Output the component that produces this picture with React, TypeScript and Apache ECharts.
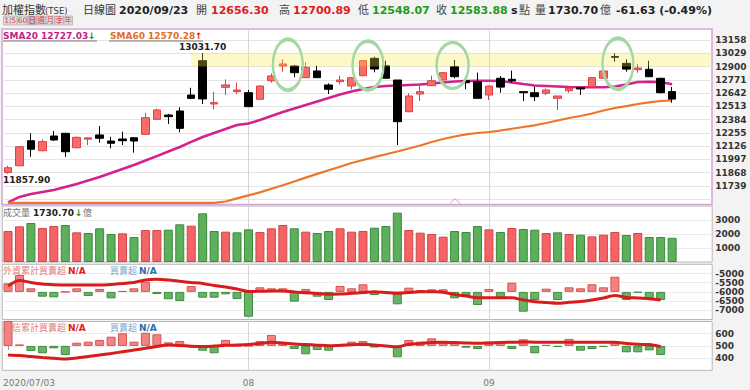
import React, { useEffect, useRef } from "react";
import * as echarts from "echarts";

const FONT = '"DejaVu Sans", "Noto Sans CJK TC", sans-serif';

// ---------------- data ----------------
const tradeDates = [
  "2020/07/03", "2020/07/06", "2020/07/07", "2020/07/08", "2020/07/09", "2020/07/10",
  "2020/07/13", "2020/07/14", "2020/07/15", "2020/07/16", "2020/07/17",
  "2020/07/20", "2020/07/21", "2020/07/22", "2020/07/23", "2020/07/24",
  "2020/07/27", "2020/07/28", "2020/07/29", "2020/07/30", "2020/07/31",
  "2020/08/03", "2020/08/04", "2020/08/05", "2020/08/06", "2020/08/07",
  "2020/08/10", "2020/08/11", "2020/08/12", "2020/08/13", "2020/08/14",
  "2020/08/17", "2020/08/18", "2020/08/19", "2020/08/20", "2020/08/21",
  "2020/08/24", "2020/08/25", "2020/08/26", "2020/08/27", "2020/08/28",
  "2020/08/31",
  "2020/09/01", "2020/09/02", "2020/09/03", "2020/09/04",
  "2020/09/07", "2020/09/08", "2020/09/09", "2020/09/10", "2020/09/11",
  "2020/09/14", "2020/09/15", "2020/09/16", "2020/09/17", "2020/09/18",
  "2020/09/21", "2020/09/22", "2020/09/23",
];
const futureDates = ["2020/09/24", "2020/09/25", "2020/09/28"];

const openPrices = [
  11870, 11936, 12179, 12082, 12225, 12251, 12111, 12194, 12235, 12176,
  12196, 12208, 12241, 12387, 12429, 12468, 12623, 12957, 12536, 12698,
  12656, 12646, 12582, 12762, 12905, 12905, 12792, 12857, 12721, 12753,
  12711, 12811, 12980, 12908, 12769, 12461, 12633, 12714, 12769, 12898,
  12762, 12753, 12623, 12786, 12776, 12656, 12646, 12640, 12591, 12665,
  12694, 12704, 12786, 12998, 12931, 12870, 12873, 12786, 12656.3,
];
const closePrices = [
  11917, 12121, 12096, 12170, 12186, 12072, 12212, 12207, 12203, 12154,
  12179, 12176, 12403, 12478, 12413, 12299, 12591, 12585, 12549, 12721,
  12672, 12510, 12711, 12808, 12925, 12840, 12893, 12792, 12679, 12769,
  12792, 12957, 12876, 12786, 12364, 12614, 12656, 12762, 12840, 12801,
  12743, 12591, 12710, 12700, 12760, 12646, 12607, 12672, 12614, 12688,
  12682, 12792, 12857, 12990, 12875, 12886, 12801, 12645.51, 12583.88,
];
const lowPrices = [
  11857.9, 11932, 12023, 12075, 12179, 12023, 12105, 12137, 12160, 12105,
  12137, 12063, 12238, 12383, 12342, 12261, 12582, 12536, 12484, 12623,
  12633, 12510, 12578, 12743, 12850, 12795, 12790, 12790, 12633, 12727,
  12679, 12805, 12844, 12786, 12137, 12455, 12565, 12710, 12765, 12786,
  12679, 12591, 12575, 12646, 12743, 12565, 12565, 12623, 12478, 12646,
  12623, 12700, 12783, 12947, 12850, 12840, 12801, 12640, 12548.07,
];
const highPrices = [
  11935, 12125, 12251, 12193, 12273, 12255, 12220, 12213, 12322, 12218,
  12267, 12212, 12451, 12490, 12439, 12504, 12694, 13031.7, 12655, 12776,
  12743, 12672, 12715, 12834, 12970, 12915, 12941, 12908, 12737, 12811,
  12795, 12960, 12996, 12957, 12769, 12640, 12737, 12811, 12845, 12964,
  12801, 12840, 12714, 12808, 12860, 12656, 12704, 12688, 12614, 12698,
  12694, 12795, 12860, 13029, 12970, 12925, 12957, 12790, 12700.89,
];
const sma20 = [
  11579, 11632, 11661, 11681, 11700, 11729, 11758, 11792, 11826, 11865,
  11904, 11943, 11987, 12030, 12074, 12118, 12167, 12215, 12254, 12293,
  12332, 12346, 12380, 12419, 12458, 12492, 12526, 12560, 12594, 12628,
  12657, 12682, 12701, 12711, 12716, 12721, 12725, 12735, 12745, 12755,
  12760, 12762, 12762, 12760, 12745, 12730, 12716, 12711, 12706, 12701,
  12698, 12698, 12698, 12706, 12725, 12750, 12753, 12750, 12727.03,
];
const sma60 = [
  11574, 11574, 11574, 11574, 11574, 11574, 11574, 11574, 11574, 11574,
  11574, 11574, 11574, 11574, 11574, 11574, 11574, 11574, 11574, 11588,
  11618, 11648, 11677, 11712, 11746, 11783, 11820, 11857, 11892, 11926,
  11962, 11992, 12019, 12048, 12074, 12103, 12133, 12167, 12196, 12220,
  12240, 12254, 12264, 12278, 12295, 12312, 12329, 12351, 12376, 12400,
  12419, 12444, 12473, 12497, 12516, 12536, 12552, 12565, 12570.28,
];
const volumes = [
  2214, 2548, 2786, 2429, 2571, 2643, 2119, 2071, 2405, 2000,
  2048, 1786, 2286, 2286, 2310, 2690, 2595, 3476, 2214, 2167,
  2119, 2333, 2143, 2405, 2643, 2405, 2167, 2071, 2214, 2405,
  2167, 2214, 2450, 2571, 3524, 2286, 2095, 2000, 1810, 2214,
  2143, 2571, 2333, 2143, 2429, 2357, 2310, 2071, 2119, 2000,
  1952, 1833, 1952, 2143, 1929, 2071, 1786, 1786, 1730.7,
];
const foreignDaily = [
  93, 184, 39, -52, -59, 0, 39, -45, 32, -70,
  10, 39, 111, -23, -80, -99, 64, -63, -63, -26,
  -77, -270, 50, 39, 39, -106, 32, -52, -88, 64,
  39, 83, -34, -10, -135, 46, 20, 28, 28, -70,
  -34, -142, 32, -70, 100, -215, -88, 35, -88, 50,
  39, 83, 50, 165, -88, -8, -70, -88, null,
];
const foreignCum = [
  -5679, -5380, -5489, -5571, -5609, -5625, -5625, -5625, -5625, -5598,
  -5544, -5489, -5353, -5315, -5353, -5424, -5489, -5544, -5652, -5734,
  -5842, -5978, -5967, -5951, -5951, -6005, -6043, -6087, -6130, -6114,
  -6076, -6033, -5989, -6033, -6076, -6033, -5989, -5995, -6022, -6141,
  -6223, -6315, -6315, -6315, -6321, -6440, -6533, -6576, -6620, -6565,
  -6522, -6440, -6332, -6196, -6304, -6332, -6370, -6440, null,
];
const trustDaily = [
  350, 18, -62, -91, -30, -111, 39, 52, 73, 113,
  155, 52, 162, 143, 44, 60, -18, -59, -91, 73,
  0, 0, 60, 134, 32, -38, -103, -50, -59, 0,
  52, 60, -20, -5, -140, 73, 52, 93, 44, 44,
  -22, -38, 52, 52, -38, 81, -91, 12, -12, 86,
  -59, -38, -12, 60, -79, -79, -55, -111, null,
];
const trustCum = [
  425, 421, 413, 405, 398, 393, 401, 413, 425, 438,
  452, 466, 480, 495, 507, 503, 497, 495, 499, 505,
  507, 511, 520, 530, 524, 516, 511, 506, 502, 505,
  509, 513, 507, 499, 493, 513, 520, 528, 530, 528,
  524, 521, 524, 528, 530, 532, 530, 530, 530, 530,
  530, 530, 530, 530, 520, 513, 511, 493, null,
];

// axis ranges / ticks
const PRICE_MIN = 11481;
const PRICE_MAX = 13287;
const PRICE_STEP = 129;
const PRICE_LABEL_LOW = 11739;
const PRICE_LABEL_HIGH = 13158;
const PANEL_VALUE_LOW = 11560;
const PANEL_VALUE_HIGH = 13262;
const VOL_MAX = 4000;
const VOL_STEP = 1000;
const FOREIGN_MIN = -7500;
const FOREIGN_MAX = -4500;
const FOREIGN_STEP = 500;
const TRUST_MIN = 300;
const TRUST_MAX = 700;
const TRUST_STEP = 100;
const DAILY_RANGE = 300;

// highlight band & circled candles
const bandStartIdx = 16;
const bandTop = 13035;
const bandBottom = 12900;
const highlightIdx = [24, 31, 39, 53];
const highlightVal = [12918, 12910, 12910, 12927];

const periodButtons = ["1", "5", "60", "日", "週", "月", "季", "年"];

// ---------------- styles ----------------
const RED_FILL = "#f76b6b";
const RED_EDGE = "#dc4040";
const GREEN_FILL = "#5cb05c";
const GREEN_EDGE = "#3c8a3c";
const RED_TXT = "#e01c1c";
const GREEN_TXT = "#1e9a1e";
const PANEL_BORDER = "#b8b8b8";
const GRID_LINE = "#e4e4e4";

function buildOption() {
  const n = tradeDates.length;
  const cats = tradeDates.concat(futureDates);
  const candles = tradeDates.map((_, i) => [openPrices[i], closePrices[i], lowPrices[i], highPrices[i]]);
  const isUp = (i: number) => (i === 0 ? closePrices[0] >= openPrices[0] : closePrices[i] >= closePrices[i - 1]);
  const monthStarts = tradeDates.filter((d, i) => i > 0 && d.slice(5, 7) !== tradeDates[i - 1].slice(5, 7));
  const labelIdx = new Set<number>([0, ...monthStarts.map((d) => tradeDates.indexOf(d))]);
  const showIdx = (i: number) => labelIdx.has(i);

  let hiIdx = 0;
  let loIdx = 0;
  highPrices.forEach((v, i) => { if (v > highPrices[hiIdx]) hiIdx = i; });
  lowPrices.forEach((v, i) => { if (v < lowPrices[loIdx]) loIdx = i; });

  const last = n - 1;
  const prevClose = closePrices[last - 1];
  const chg = closePrices[last] - prevClose;
  const pct = (chg / prevClose) * 100;
  const pc = (v: number) => (v >= prevClose ? RED_TXT : GREEN_TXT);
  const f2 = (v: number) => v.toFixed(2);
  const sign = (v: number) => (v > 0 ? "+" : "");

  const txt = (x: number, y: number, text: string, fill: string, size: number, weight = "normal") => ({
    type: "text", x, y, z: 1, silent: true,
    style: { text, fill, fontSize: size, fontWeight: weight, fontFamily: FONT, verticalAlign: "middle", align: "left" },
  });
  const uline = (x1: number, x2: number, y: number) => ({
    type: "line", z: 1, silent: true, shape: { x1, y1: y, x2, y2: y }, style: { stroke: "#777", lineWidth: 1 },
  });

  const hy = 10;
  const header = [
    txt(2, hy, "加權指數", "#333", 11),
    txt(45, hy + 0.5, "(TSE)", "#333", 8.5),
    txt(83, hy, "日線圖", "#333", 11),
    txt(119, hy, tradeDates[last], "#222", 11, "bold"),
    txt(196, hy, "開", "#444", 11),
    txt(211, hy, f2(openPrices[last]), pc(openPrices[last]), 11, "bold"),
    txt(279, hy, "高", "#444", 11),
    txt(293, hy, f2(highPrices[last]), pc(highPrices[last]), 11, "bold"),
    txt(358, hy, "低", "#444", 11),
    txt(372, hy, f2(lowPrices[last]), pc(lowPrices[last]), 11, "bold"),
    txt(436, hy, "收", "#444", 11),
    txt(450, hy, f2(closePrices[last]), pc(closePrices[last]), 11, "bold"),
    txt(511, hy, "s", "#222", 11, "bold"),
    txt(519, hy, "點", "#444", 11),
    txt(535, hy, "量", "#444", 11),
    txt(548, hy, f2(volumes[last]), "#222", 11, "bold"),
    txt(600, hy, "億", "#444", 11),
    txt(616, hy, `${sign(chg)}${f2(chg)} (${sign(pct)}${pct.toFixed(2)}%)`, "#222", 11, "bold"),
  ];

  const btnW = [6.5, 6.5, 10, 8.5, 8.5, 8.5, 8.5, 8.5];
  const buttons: any[] = [];
  let bx = 3.5;
  periodButtons.forEach((b, i) => {
    buttons.push({ type: "rect", z: 1, silent: true, shape: { x: bx, y: 16, width: btnW[i], height: 9 },
      style: { fill: b === "日" ? "#bcbcbc" : "#dedede", stroke: "#aaaaaa", lineWidth: 0.7 } });
    buttons.push({ type: "text", z: 1, silent: true, x: bx + btnW[i] / 2, y: 20.7,
      style: { text: b, fill: "#d83a3a", fontSize: 7.5, fontFamily: FONT, align: "center", verticalAlign: "middle" } });
    bx += btnW[i] + 0.5;
  });

  const arrow = (cur: number, prev: number) => (cur >= prev ? "↑" : "↓");
  const arrowColor = (cur: number, prev: number) => (cur >= prev ? RED_TXT : "#138a13");
  const s20 = sma20[last];
  const s60 = sma60[last];
  const legend = [
    txt(3, 35.7, `SMA20 ${f2(s20)}`, "#c41f86", 9, "bold"),
    txt(88, 35.7, arrow(s20, sma20[last - 1]), arrowColor(s20, sma20[last - 1]), 9, "bold"),
    uline(3, 97, 41),
    txt(110, 35.7, `SMA60 ${f2(s60)}`, "#e0702a", 9, "bold"),
    txt(195, 35.7, arrow(s60, sma60[last - 1]), arrowColor(s60, sma60[last - 1]), 9, "bold"),
    uline(109, 203, 41),
    txt(3, 212.7, "成交量", "#777", 9),
    txt(33, 212.7, f2(volumes[last]), "#222", 9, "bold"),
    txt(75, 212.7, arrow(volumes[last], volumes[last - 1]), arrowColor(volumes[last], volumes[last - 1]), 9, "bold"),
    txt(83, 212.7, "億", "#777", 9),
    txt(3, 271, "外資累計買賣超", "#e47a7a", 9),
    txt(68, 271, "N/A", "#dd2020", 9, "bold"),
    txt(110, 271, "買賣超", "#7ea8cf", 9),
    txt(139, 271, "N/A", "#2a6db0", 9, "bold"),
    txt(3, 328.3, "投信累計買賣超", "#e47a7a", 9),
    txt(68, 328.3, "N/A", "#dd2020", 9, "bold"),
    txt(110, 328.3, "買賣超", "#7ea8cf", 9),
    txt(139, 328.3, "N/A", "#2a6db0", 9, "bold"),
  ];

  const panelRect = {
    type: "rect", z: -1, silent: true,
    shape: { x: 2, y: 29, width: 710, height: 175.5 },
    style: { fill: "#ffffff", stroke: "#d6a6d6", lineWidth: 1.6 },
  };
  const cursorMark = {
    type: "polyline", z: 3, silent: true,
    shape: { points: [[450, 203.5], [455, 198.5], [460, 203.5]] },
    style: { stroke: "#c69ac6", fill: "none", lineWidth: 1 },
  };

  const gridL = 2.3;
  const gridW = 709.9;
  const grids = [
    { left: gridL, width: gridW, top: 26.73, height: 185.8, show: false },
    { left: gridL, width: gridW, top: 206, height: 56, show: true, backgroundColor: "#fff", borderColor: PANEL_BORDER, borderWidth: 1 },
    { left: gridL, width: gridW, top: 264.3, height: 55.2, show: true, backgroundColor: "#fff", borderColor: PANEL_BORDER, borderWidth: 1 },
    { left: gridL, width: gridW, top: 321.5, height: 48.8, show: true, backgroundColor: "#fff", borderColor: PANEL_BORDER, borderWidth: 1 },
  ].map((g) => ({ ...g, containLabel: false, outerBoundsMode: "none" }));

  const xBase = {
    type: "category", data: cats, boundaryGap: true,
    axisLine: { show: false }, axisTick: { show: false }, axisLabel: { show: false }, splitLine: { show: false },
  };
  const xAxis = [
    { ...xBase, gridIndex: 0 },
    { ...xBase, gridIndex: 1 },
    { ...xBase, gridIndex: 2 },
    {
      ...xBase, gridIndex: 3,
      axisTick: { show: true, alignWithLabel: true, interval: (i: number) => showIdx(i), length: 4, lineStyle: { color: "#999" } },
      axisLabel: {
        show: true, interval: (i: number) => showIdx(i), color: "#777", fontSize: 9, fontFamily: FONT, margin: 8,
        formatter: (v: string, i: number) => (i === 0 ? `{first|${v}}` : v.slice(5, 7)),
        rich: { first: { padding: [0, 0, 0, 42], color: "#777", fontSize: 9, fontFamily: FONT } },
      },
    },
  ];

  const plain = (v: number) => String(v);
  const yLabel = { color: "#333", fontWeight: "bold", fontSize: 9, fontFamily: FONT, margin: 3 };
  const ySplit = { show: true, showMinLine: false, showMaxLine: false, lineStyle: { color: GRID_LINE, width: 1 } };
  const yAxis = [
    {
      gridIndex: 0, type: "value", position: "right", min: PRICE_MIN, max: PRICE_MAX, interval: PRICE_STEP,
      axisLine: { show: false }, axisTick: { show: false },
      axisLabel: { ...yLabel, formatter: (v: number) => (v >= PRICE_LABEL_LOW && v <= PRICE_LABEL_HIGH ? String(v) : "") },
      splitLine: ySplit,
    },
    {
      gridIndex: 1, type: "value", position: "right", min: 0, max: VOL_MAX, interval: VOL_STEP,
      axisLine: { show: false }, axisTick: { show: false },
      axisLabel: { ...yLabel, showMinLabel: false, showMaxLabel: false, formatter: plain },
      splitLine: { ...ySplit, lineStyle: { color: "#ececec" } },
    },
    {
      gridIndex: 2, type: "value", position: "right", min: FOREIGN_MIN, max: FOREIGN_MAX, interval: FOREIGN_STEP,
      axisLine: { show: false }, axisTick: { show: false },
      axisLabel: { ...yLabel, showMinLabel: false, showMaxLabel: false, formatter: plain },
      splitLine: { ...ySplit, lineStyle: { color: "#ececec" } },
    },
    { gridIndex: 2, type: "value", show: false, min: -DAILY_RANGE, max: DAILY_RANGE, splitLine: { show: false } },
    {
      gridIndex: 3, type: "value", position: "right", min: TRUST_MIN, max: TRUST_MAX, interval: TRUST_STEP,
      axisLine: { show: false }, axisTick: { show: false },
      axisLabel: { ...yLabel, showMinLabel: false, showMaxLabel: false, formatter: plain },
      splitLine: { ...ySplit, lineStyle: { color: "#ececec" } },
    },
    { gridIndex: 3, type: "value", show: false, min: -DAILY_RANGE, max: DAILY_RANGE, splitLine: { show: false } },
  ];

  const vLineStyle = { color: "#d6d6d6", width: 1, type: "solid" };
  const monthLines = (withRange: boolean) => ({
    silent: true, symbol: ["none", "none"], z: 1, label: { show: false }, lineStyle: vLineStyle,
    emphasis: { disabled: true },
    data: withRange
      ? monthStarts.map((d) => [{ xAxis: d, yAxis: PANEL_VALUE_LOW }, { xAxis: d, yAxis: PANEL_VALUE_HIGH }])
      : monthStarts.map((d) => ({ xAxis: d })),
  });

  const dailyBars = (arr: (number | null)[]) =>
    arr.map((v) => (v == null ? null : {
      value: v,
      itemStyle: v >= 0 ? { color: "#f58282", borderColor: "#d95454" } : { color: "#66b466", borderColor: "#3f8d3f" },
    }));

  const ellipseSizes = [[30, 51], [31, 49], [32, 46], [31, 51]];
  const ellipseShift = [5, 5, -2, 3];

  const series: any[] = [
    {
      type: "candlestick", xAxisIndex: 0, yAxisIndex: 0, data: candles, barWidth: 8,
      itemStyle: { color: RED_FILL, color0: "#000", borderColor: RED_EDGE, borderColor0: "#000", borderWidth: 1 },
      markArea: {
        silent: true, z: 3,
        itemStyle: { color: "rgba(250,232,70,0.30)" },
        data: [[{ xAxis: cats[bandStartIdx], yAxis: bandTop }, { x: 712, yAxis: bandBottom }]],
      },
      markPoint: {
        silent: true, symbol: "circle", symbolSize: 1,
        itemStyle: { color: "rgba(0,0,0,0)" },
        label: { show: true, color: "#222", fontWeight: "bold", fontSize: 9, fontFamily: FONT, formatter: (p: any) => f2(p.value) },
        data: [
          { coord: [cats[hiIdx], highPrices[hiIdx]], value: highPrices[hiIdx], label: { position: "top", distance: 1 } },
          { coord: [cats[loIdx], lowPrices[loIdx]], value: lowPrices[loIdx], label: { position: "bottom", distance: 1, align: "left", offset: [-5, 0] } },
        ],
      },
    },
    {
      type: "line", xAxisIndex: 0, yAxisIndex: 0, data: sma20, symbol: "none", showSymbol: false,
      lineStyle: { color: "#d4228c", width: 2.5 }, z: 2,
      markLine: monthLines(true),
      markPoint: {
        silent: true, symbol: "circle",
        itemStyle: { color: "rgba(0,0,0,0)", borderColor: "#a3d7a3", borderWidth: 3 },
        label: { show: false },
        data: highlightIdx.map((idx, k) => ({
          coord: [cats[idx], highlightVal[k]], symbolSize: ellipseSizes[k], symbolOffset: [ellipseShift[k], 0],
        })),
      },
    },
    {
      type: "line", xAxisIndex: 0, yAxisIndex: 0, data: sma60, symbol: "none", showSymbol: false,
      lineStyle: { color: "#ec772c", width: 2.2 }, z: 2,
    },
    {
      type: "bar", xAxisIndex: 1, yAxisIndex: 1, barWidth: 9,
      data: volumes.map((v, i) => ({
        value: v,
        itemStyle: isUp(i) ? { color: "#f56464", borderColor: "#d24646" } : { color: GREEN_FILL, borderColor: GREEN_EDGE },
      })),
      itemStyle: { borderWidth: 1 },
      markLine: monthLines(false),
    },
    {
      type: "bar", xAxisIndex: 2, yAxisIndex: 3, barWidth: 9, data: dailyBars(foreignDaily), itemStyle: { borderWidth: 1 },
    },
    {
      type: "line", xAxisIndex: 2, yAxisIndex: 2, data: foreignCum, symbol: "none", showSymbol: false, smooth: 0.3,
      lineStyle: { color: "#d81c1c", width: 3 }, z: 3, markLine: monthLines(false),
    },
    {
      type: "bar", xAxisIndex: 3, yAxisIndex: 5, barWidth: 9, data: dailyBars(trustDaily), itemStyle: { borderWidth: 1 },
    },
    {
      type: "line", xAxisIndex: 3, yAxisIndex: 4, data: trustCum, symbol: "none", showSymbol: false, smooth: 0.3,
      lineStyle: { color: "#d81c1c", width: 3 }, z: 3, markLine: monthLines(false),
    },
  ];

  return {
    animation: false,
    backgroundColor: "#f3f3f3",
    textStyle: { fontFamily: FONT },
    grid: grids,
    xAxis,
    yAxis,
    series,
    graphic: { elements: [panelRect, cursorMark, ...header, ...buttons, ...legend] },
  };
}

export default function App() {
  const ref = useRef<HTMLDivElement>(null);
  useEffect(() => {
    if (!ref.current) return;
    const chart = echarts.init(ref.current, null, { renderer: "svg" });
    chart.setOption(buildOption() as any);
    return () => chart.dispose();
  }, []);
  return <div ref={ref} style={{ position: "fixed", left: 0, top: 0, width: 750, height: 390 }} />;
}
